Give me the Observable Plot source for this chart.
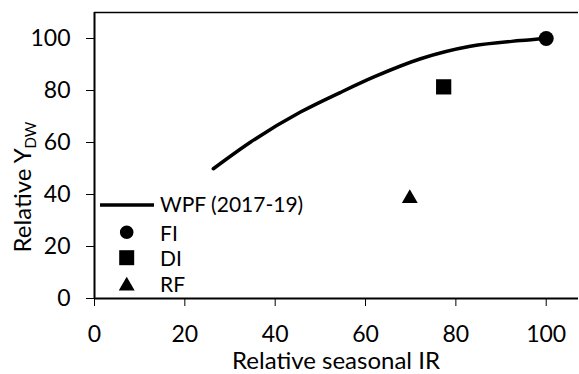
<!DOCTYPE html>
<html><head><meta charset="utf-8">
<script src="https://cdn.jsdelivr.net/npm/d3@7"></script>
<script src="https://cdn.jsdelivr.net/npm/@observablehq/plot@0.6"></script>
<style>body{margin:0;background:#fff} svg{font-family:Lato}</style>
</head><body><div id="chart"></div>
<script>
// WPF curve
const wpfX = [26.3, 34.5, 45.6, 54.5, 62, 72.2, 83.2, 94.3, 100];
const wpfY = [49.9, 60.1, 71.7, 79.3, 85.3, 92.2, 97.0, 99.2, 100];
// treatments
const treatments = ["FI", "DI", "RF"];
const treatX = [100, 77.3, 69.8];
const treatY = [100, 81.4, 38.5];
const treatSymbol = ["circle", "square", "triangle"];
const treatR = [7.5, 8.6, 5.9];
const xTicks = [0, 20, 40, 60, 80, 100];
const yTicks = [0, 20, 40, 60, 80, 100];
const legendLabels = ["WPF (2017-19)", "FI", "DI", "RF"];

const wpf = wpfX.map((x, i) => ({x, y: wpfY[i]}));
const pts = treatments.map((t, i) => ({t, x: treatX[i], y: treatY[i], s: treatSymbol[i], r: treatR[i]}));

const plot = Plot.plot({
  width: 579, height: 374,
  marginLeft: 94, marginRight: 1, marginTop: 12, marginBottom: 76,
  style: {fontFamily: "Lato", fontSize: "23px", color: "#000", background: "#fff", overflow: "visible"},
  x: {domain: [0, 107.15], ticks: xTicks, tickSize: 8, tickPadding: 19, label: null},
  y: {domain: [0, 110], ticks: yTicks, tickSize: 8, tickPadding: 16, label: null},
  marks: [
    Plot.ruleY([110], {stroke: "#000", strokeWidth: 1.3}),
    Plot.ruleX([0], {stroke: "#000", strokeWidth: 2}),
    Plot.ruleY([0], {stroke: "#000", strokeWidth: 1.8}),
    Plot.line(wpf, {x: "x", y: "y", curve: "monotone-x", stroke: "#000", strokeWidth: 3.5}),
    ...pts.map(p => Plot.dot([p], {x: "x", y: "y", symbol: p.s, r: p.r, fill: "#000", stroke: "none"}))
  ]
});
document.getElementById("chart").appendChild(plot);

const svg = d3.select(plot);
// axis titles
const yl = svg.append("text").attr("transform", "translate(31,187) rotate(-90)")
  .attr("text-anchor", "middle").attr("font-size", 24).attr("fill", "#000");
yl.append("tspan").text("Relative Y");
yl.append("tspan").attr("font-size", 15).attr("dy", 5).text("DW");
svg.append("text").attr("x", 336).attr("y", 369).attr("text-anchor", "middle")
  .attr("font-size", 24).attr("fill", "#000").text("Relative seasonal IR");

// legend
const lg = svg.append("g").attr("fill", "#000").attr("font-size", 21).attr("text-anchor", "start");
lg.append("line").attr("x1", 100).attr("x2", 154).attr("y1", 205).attr("y2", 205)
  .attr("stroke", "#000").attr("stroke-width", 3.5);
const rowY = [204, 233.5, 258.3, 284];
legendLabels.forEach((l, i) => {
  lg.append("text").attr("x", 160).attr("y", rowY[i]).attr("dy", "0.36em")
    .attr("text-anchor", "start").text(l);
});
const symSizes = [Math.PI * 6.8 * 6.8, 15 * 15, 110];
const symTypes = [d3.symbolCircle, d3.symbolSquare, d3.symbolTriangle];
const symY = [232.3, 257.7, 286];
symTypes.forEach((s, i) => {
  lg.append("path").attr("transform", `translate(126.7,${symY[i]})`)
    .attr("d", d3.symbol(s, symSizes[i])());
});
</script></body></html>
